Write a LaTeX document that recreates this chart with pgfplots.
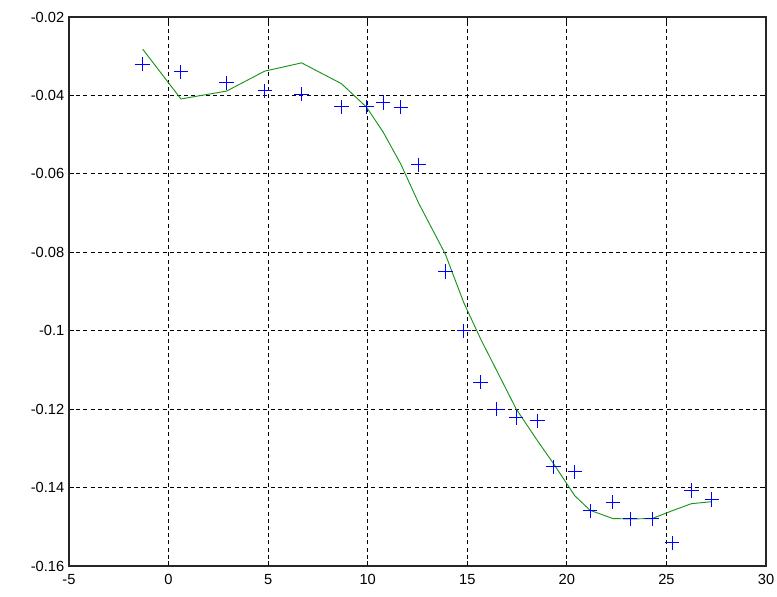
\documentclass[border=0pt]{standalone}
\usepackage{fontspec}
\setmainfont{Liberation Sans}
\usepackage{pgfplots}
\pgfplotsset{compat=1.18}

\definecolor{fitgreen}{rgb}{0.10,0.58,0.10}
\definecolor{ptblue}{rgb}{0.0,0.0,1.0}

\begin{document}
\begin{tikzpicture}
\begin{axis}[
  scale only axis,
  width=522.75pt, height=411.75pt,
  xmin=-5, xmax=30, ymin=-0.16, ymax=-0.02,
  xtick={-5,0,5,10,15,20,25,30},
  xticklabels={-5,0,5,10,15,20,25,30},
  ytick={-0.16,-0.14,-0.12,-0.1,-0.08,-0.06,-0.04,-0.02},
  yticklabels={-0.16,-0.14,-0.12,-0.1,-0.08,-0.06,-0.04,-0.02},
  tick label style={font=\fontsize{11}{12}\selectfont},
  xticklabel style={yshift=-2.5pt},
  yticklabel style={xshift=0pt},
  tick align=inside,
  major tick length=4pt,
  tick style={black, line width=0.6pt},
  axis line style={line width=0.8pt, black!85},
  grid=major,
  major grid style={black, dash pattern=on 3pt off 2.4pt, line width=0.6pt},
  clip=false,
]
% smoothed fit
\addplot[fitgreen, line width=0.7pt] coordinates {
  (-1.30,-0.0282) (0.62,-0.0409) (2.91,-0.0389) (4.83,-0.0338)
  (6.68,-0.0317) (8.68,-0.0370) (9.94,-0.0430) (10.77,-0.0493)
  (11.66,-0.0575) (12.56,-0.0675) (13.90,-0.0805) (14.82,-0.0928)
  (15.67,-0.1021) (16.49,-0.1103) (17.46,-0.1200) (18.53,-0.1281)
  (19.33,-0.1339) (20.40,-0.1421) (21.17,-0.1458) (22.31,-0.1479)
  (23.18,-0.1480) (24.28,-0.1479) (25.29,-0.1459) (26.26,-0.1441)
  (27.28,-0.1436)
};
% measured samples
\addplot[only marks, mark=+, mark size=5.4pt, draw=ptblue, color=ptblue,
  mark options={solid, draw=ptblue, line width=0.8pt}] coordinates {
  (-1.30,-0.0320) (0.62,-0.0340) (2.91,-0.0368) (4.83,-0.0388)
  (6.68,-0.0397) (8.68,-0.0429) (9.94,-0.0429) (10.77,-0.0418)
  (11.66,-0.0430) (12.56,-0.0577) (13.90,-0.0849) (14.82,-0.1000)
  (15.67,-0.1131) (16.49,-0.1200) (17.46,-0.1221) (18.53,-0.1230)
  (19.33,-0.1347) (20.40,-0.1360) (21.17,-0.1459) (22.31,-0.1437)
  (23.18,-0.1480) (24.28,-0.1480) (25.29,-0.1541) (26.26,-0.1407)
  (27.28,-0.1430)
};
\end{axis}
\pgfresetboundingbox
\path[use as bounding box]
  ([shift={(-51.75pt,-22.5pt)}]current axis.south west)
  rectangle
  ([shift={(8.25pt,12.75pt)}]current axis.north east);
\end{tikzpicture}
\end{document}
